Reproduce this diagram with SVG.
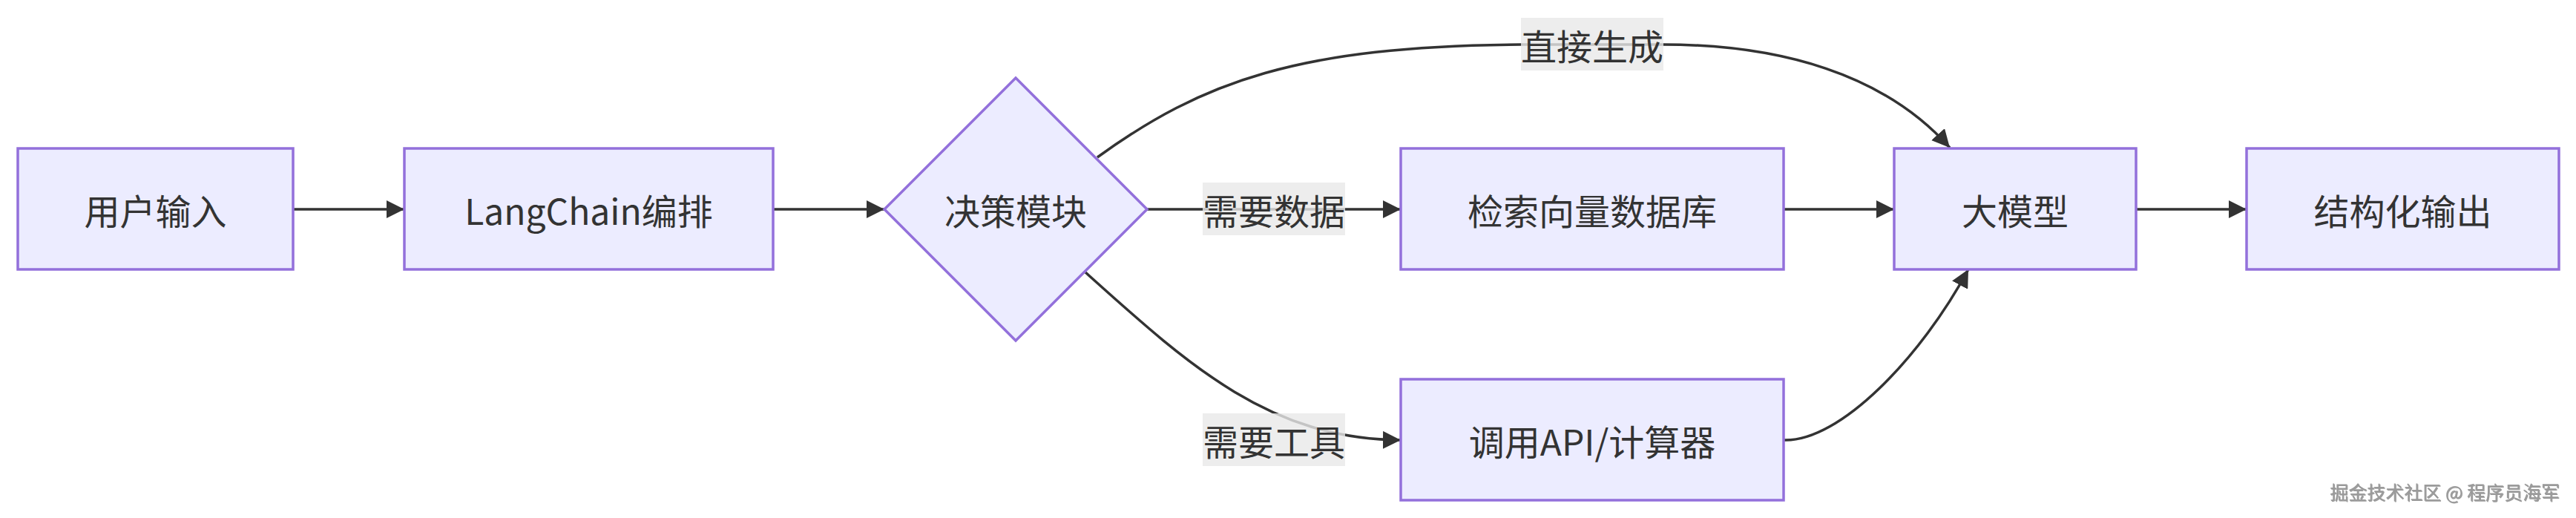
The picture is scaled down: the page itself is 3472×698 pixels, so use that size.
<svg xmlns="http://www.w3.org/2000/svg" width="3472" height="698" viewBox="0 0 3472 698">
<style>
.node rect, .node polygon { fill: #ECECFF; stroke: #9370DB; stroke-width: 3.5; }
.node text { font-family: "Noto Sans CJK SC", "Noto Sans", "Liberation Sans", sans-serif; font-size: 48px; fill: #333333; text-anchor: middle; dominant-baseline: central; }
.edge { fill: none; stroke: #333333; stroke-width: 3.5; }
.elabel rect { fill: rgba(232,232,232,0.8); stroke: none; }
.elabel text { font-family: "Noto Sans CJK SC", "Noto Sans", "Liberation Sans", sans-serif; font-size: 48px; fill: #333333; text-anchor: middle; dominant-baseline: central; }
.wm { font-family: "Noto Sans CJK SC", "Noto Sans", "Liberation Sans", sans-serif; font-size: 25px; fill: #9a9a9a; text-anchor: end; }
</style>
<defs>
<marker id="arrow" markerUnits="userSpaceOnUse" markerWidth="24" markerHeight="24" viewBox="0 0 24 24" refX="24" refY="12" orient="auto">
<path d="M0,0 L24,12 L0,24 z" fill="#333333"/>
</marker>
<filter id="emb" x="-5%" y="-20%" width="110%" height="140%">
<feDropShadow dx="1" dy="1" stdDeviation="0.6" flood-color="#555555" flood-opacity="0.6"/>
</filter>
</defs>
<rect width="3472" height="698" fill="#FFFFFF"/>

<g id="edges">
<path class="edge" d="M395,282 L545,282" marker-end="url(#arrow)"/>
<path class="edge" d="M1042,282 L1192,282" marker-end="url(#arrow)"/>
<path class="edge" d="M1546,282 L1888,282" marker-end="url(#arrow)"/>
<path class="edge" d="M1463,367 C1600,490 1710,592 1888,593" marker-end="url(#arrow)"/>
<path class="edge" d="M1479,212 C1620,110 1750,62 2050,60 L2241,60 C2400,60 2540,100 2628,199" marker-end="url(#arrow)"/>
<path class="edge" d="M2404,282 L2553,282" marker-end="url(#arrow)"/>
<path class="edge" d="M2404,593 C2480,596 2590,480 2653,363" marker-end="url(#arrow)"/>
<path class="edge" d="M2879,282 L3028,282" marker-end="url(#arrow)"/>
</g>

<g id="edge-labels">
<g class="elabel" id="label-direct"><rect x="2050" y="24" width="192" height="71"/><text x="2146" y="60">直接生成</text></g>
<g class="elabel" id="label-data"><rect x="1621" y="246" width="192" height="71"/><text x="1717" y="282">需要数据</text></g>
<g class="elabel" id="label-tool"><rect x="1621" y="557" width="192" height="71"/><text x="1717" y="593">需要工具</text></g>
</g>

<g class="node" id="A"><rect x="24" y="200" width="371" height="163"/><text x="209.5" y="282">用户输入</text></g>
<g class="node" id="B"><rect x="545" y="200" width="497" height="163"/><text x="793.5" y="282">LangChain编排</text></g>
<g class="node" id="C"><polygon points="1369,105 1546,282 1369,459 1192,282"/><text x="1369" y="282">决策模块</text></g>
<g class="node" id="D"><rect x="1888" y="200" width="516" height="163"/><text x="2146" y="282">检索向量数据库</text></g>
<g class="node" id="E"><rect x="1888" y="511" width="516" height="163"/><text x="2146" y="593">调用API/计算器</text></g>
<g class="node" id="F"><rect x="2553" y="200" width="326" height="163"/><text x="2716" y="282">大模型</text></g>
<g class="node" id="G"><rect x="3028" y="200" width="421" height="163"/><text x="3238.5" y="282">结构化输出</text></g>

<text class="wm" x="3450" y="673" filter="url(#emb)">掘金技术社区 @ 程序员海军</text>
</svg>
